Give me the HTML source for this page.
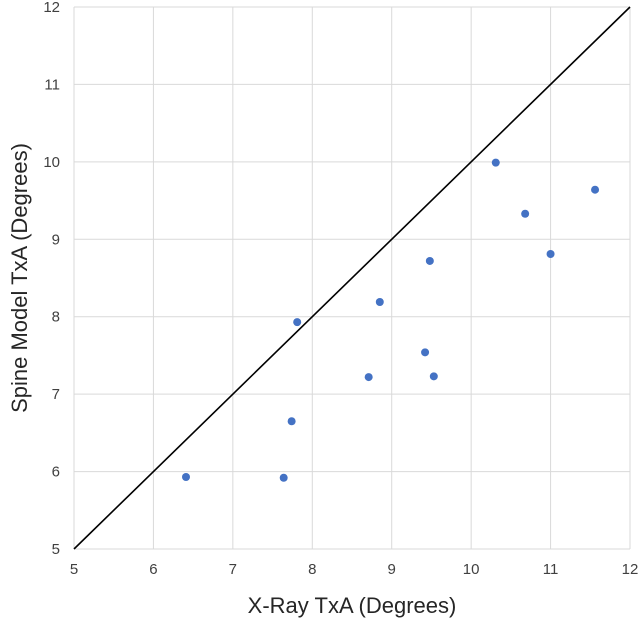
<!DOCTYPE html>
<html><head><meta charset="utf-8"><style>
body{margin:0;background:#fff;width:640px;height:618px;overflow:hidden}
svg{font-family:"Liberation Sans",sans-serif}
</style></head><body>
<svg id="chart" width="640" height="618" viewBox="0 0 640 618"></svg>
<script>
const xTicks=[5,6,7,8,9,10,11,12];
const yTicks=[5,6,7,8,9,10,11,12];
const xVals=[6.41,7.64,7.74,7.81,8.71,8.85,9.42,9.48,9.53,10.31,10.68,11.0,11.56];
const yVals=[5.93,5.92,6.65,7.93,7.22,8.19,7.54,8.72,7.23,9.99,9.33,8.81,9.64];
const L=74,R=630,T=7,B=549;
const sx=v=>L+(v-5)/7*(R-L);
const sy=v=>B-(v-5)/7*(B-T);
const svg=document.getElementById('chart');
const NS='http://www.w3.org/2000/svg';
function mk(t,a,txt){const e=document.createElementNS(NS,t);for(const k in a)e.setAttribute(k,a[k]);if(txt!==undefined)e.textContent=txt;svg.appendChild(e);return e;}
xTicks.forEach(t=>{
 const g=mk('line',{x1:sx(t),x2:sx(t),y1:T,y2:B,stroke:'#d9d9d9','stroke-width':1});
 
 
 const l=mk('text',{x:sx(t),y:B+25,'text-anchor':'middle','font-size':15,fill:'#404040'},t);
 
 
});
yTicks.forEach(t=>{
 const g=mk('line',{x1:L,x2:R,y1:sy(t),y2:sy(t),stroke:'#d9d9d9','stroke-width':1});
 
 
 const l=mk('text',{x:L-14,y:sy(t)+5,'text-anchor':'end','font-size':15,fill:'#404040'},t);
 
 
});
const ln=mk('line',{x1:sx(5),y1:sy(5),x2:sx(12),y2:sy(12),stroke:'#000','stroke-width':1.6});


xVals.forEach((v,i)=>{
 const c=mk('circle',{cx:sx(v),cy:sy(yVals[i]),r:4,fill:'#4472c4'});
 
 
});
const xt=mk('text',{x:(L+R)/2,y:613,'text-anchor':'middle','font-size':22,fill:'#262626'},'X-Ray TxA (Degrees)');


const yt=mk('text',{x:0,y:0,'text-anchor':'middle','font-size':22,fill:'#262626',transform:'translate(27,'+((T+B)/2)+') rotate(-90)'},'Spine Model TxA (Degrees)');


</script>
</body></html>
